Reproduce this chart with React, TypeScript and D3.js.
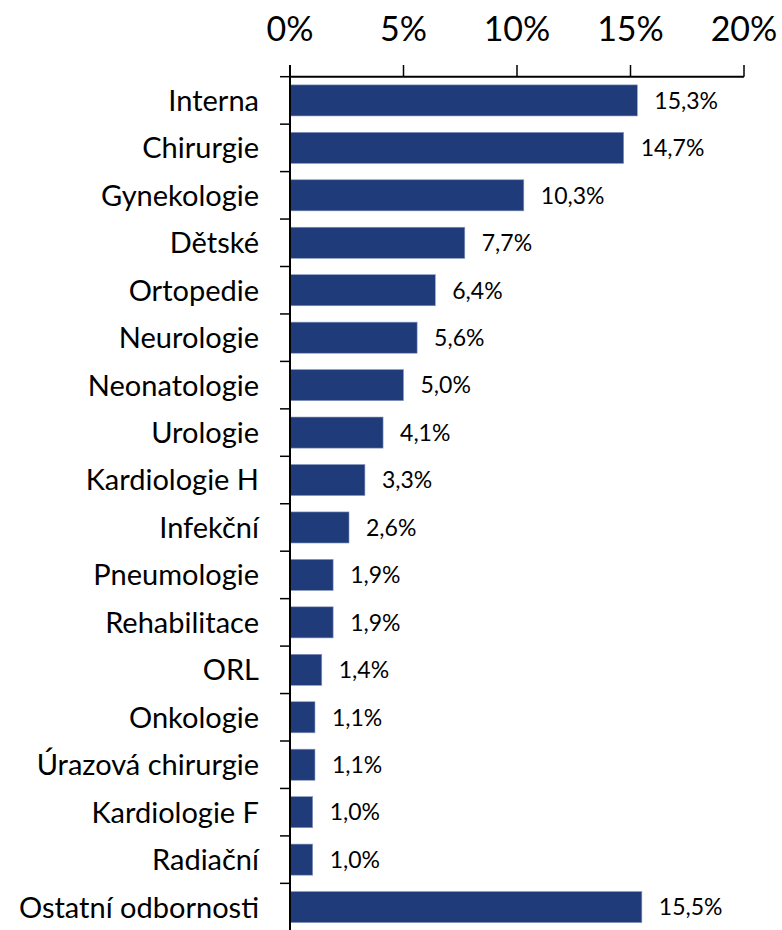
import React from "react";
import * as d3 from "d3";

const categories = [
  "Interna", "Chirurgie", "Gynekologie", "Dětské", "Ortopedie", "Neurologie",
  "Neonatologie", "Urologie", "Kardiologie H", "Infekční", "Pneumologie",
  "Rehabilitace", "ORL", "Onkologie", "Úrazová chirurgie", "Kardiologie F",
  "Radiační", "Ostatní odbornosti",
];
const values = [15.3, 14.7, 10.3, 7.7, 6.4, 5.6, 5.0, 4.1, 3.3, 2.6, 1.9, 1.9, 1.4, 1.1, 1.1, 1.0, 1.0, 15.5];
const tickValues = [0, 5, 10, 15, 20];

export default function App() {
  const W = 782, H = 930;
  const left = 290, right = 744, top = 76.7, bottom = 930.8;
  const x = d3.scaleLinear().domain([0, 20]).range([left, right]);
  const y = d3.scaleBand<string>().domain(categories).range([top, bottom]).paddingInner(0.345).paddingOuter(0.1725);
  const band = (bottom - top) / categories.length;
  const font = "Lato, 'Open Sans', sans-serif";
  const fmt = (v: number) => v.toFixed(1).replace(".", ",") + "%";
  return (
    <svg width={W} height={H} style={{ position: "absolute", left: 0, top: 0 }}>
      <rect width={W} height={H} fill="#fff" />
      {categories.map((c, i) => (
        <g key={c}>
          <rect x={x(0)} y={y(c)!} width={x(values[i]) - x(0)} height={y.bandwidth()} fill="#1F3B7A" stroke="#8A9BC2" strokeWidth={0.6} />
          <text x={x(values[i]) + 17} y={y(c)! + y.bandwidth() / 2} dy="0.36em" fontFamily={font} fontSize={23} fill="#000">{fmt(values[i])}</text>
          <text x={259} y={y(c)! + y.bandwidth() / 2} dy="0.36em" textAnchor="end" fontFamily={font} fontSize={29} fill="#000">{c}</text>
        </g>
      ))}
      {d3.range(categories.length + 1).map((i) => (
        <line key={i} x1={280} x2={left} y1={top + i * band} y2={top + i * band} stroke="#000" strokeWidth={1.5} />
      ))}
      <line x1={left} x2={left} y1={65} y2={H} stroke="#000" strokeWidth={2} />
      <line x1={left} x2={right} y1={top} y2={top} stroke="#000" strokeWidth={2} />
      {tickValues.map((t) => (
        <g key={t}>
          <line x1={x(t)} x2={x(t)} y1={65} y2={top} stroke="#000" strokeWidth={1.5} />
          <text x={x(t)} y={41} textAnchor="middle" fontFamily={font} fontSize={34} fill="#000">{t}%</text>
        </g>
      ))}
    </svg>
  );
}
